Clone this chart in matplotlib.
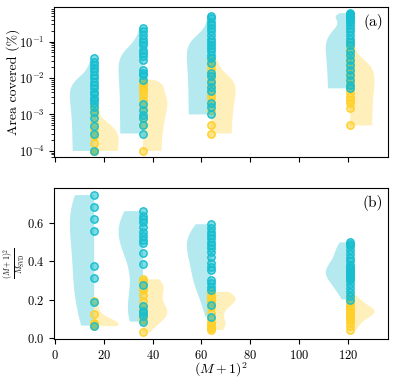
import numpy as np
import matplotlib
matplotlib.use('Agg')
import matplotlib.pyplot as plt

plt.rcParams['font.family'] = 'serif'
plt.rcParams['font.serif'] = ['cmr10']
plt.rcParams['mathtext.fontset'] = 'cm'
plt.rcParams['axes.formatter.use_mathtext'] = True
plt.rcParams['axes.unicode_minus'] = False

# x positions: (M+1)^2
positions = [16, 36, 64, 121]

# top panel: area covered (%) -- cyan (left half) and yellow (right half)
area_cyan = [
    [0.035, 0.028, 0.023, 0.0185, 0.0157, 0.0122, 0.0099, 0.008, 0.0065, 0.0052,
     0.0042, 0.0036, 0.0029, 0.0025, 0.002, 0.0016, 0.0012, 0.0008, 0.00048, 0.0003, 0.0001],
    [0.23, 0.19, 0.15, 0.12, 0.10, 0.081, 0.059, 0.048, 0.039, 0.032,
     0.0166, 0.0141, 0.0123, 0.0089, 0.0019, 0.0013, 0.00098, 0.0008, 0.00051, 0.0003],
    [0.49, 0.44, 0.35, 0.29, 0.23, 0.19, 0.15, 0.12, 0.10, 0.081, 0.066, 0.054,
     0.043, 0.035, 0.026, 0.0135, 0.011, 0.0079, 0.0058, 0.0043, 0.002, 0.0016, 0.001],
    [0.60, 0.57, 0.54, 0.52, 0.49, 0.46, 0.44, 0.40, 0.35, 0.29, 0.23, 0.19, 0.15,
     0.12, 0.10, 0.081, 0.054, 0.043, 0.032, 0.023, 0.0166, 0.0123, 0.0089, 0.0065, 0.0052],
]
area_yellow = [
    [0.0001, 0.0001, 0.0001, 0.0001, 0.0001, 0.0001, 0.00016, 0.00025, 0.0003,
     0.0004, 0.0006, 0.001, 0.0013, 0.0017],
    [0.0001, 0.0005, 0.0008, 0.0013, 0.0018, 0.0025, 0.0032, 0.004, 0.005,
     0.0056, 0.0063, 0.007, 0.0079, 0.0089],
    [0.0003, 0.00051, 0.0013, 0.002, 0.0028, 0.0035, 0.0045, 0.0056, 0.0071,
     0.0089, 0.011, 0.014, 0.018, 0.022, 0.028, 0.032],
    [0.0005, 0.0015, 0.002, 0.0025, 0.0031, 0.0038, 0.005, 0.0063, 0.0079, 0.01,
     0.0126, 0.0158, 0.02, 0.025, 0.032, 0.04, 0.05, 0.063, 0.079, 0.1],
]

# bottom panel: (M+1)^2 / M_SVD
ratio_cyan = [
    [0.748, 0.684, 0.622, 0.561, 0.376, 0.311, 0.189, 0.063],
    [0.664, 0.640, 0.622, 0.605, 0.582, 0.556, 0.533, 0.512, 0.498, 0.443,
     0.386, 0.276, 0.166, 0.142, 0.13, 0.114, 0.084],
    [0.595, 0.574, 0.556, 0.539, 0.521, 0.503, 0.486, 0.469, 0.451, 0.422,
     0.390, 0.372, 0.355, 0.303, 0.285, 0.267, 0.25, 0.171, 0.110],
    [0.50, 0.49, 0.48, 0.46, 0.44, 0.42, 0.40, 0.38, 0.37, 0.36, 0.35, 0.345,
     0.34, 0.33, 0.32, 0.31, 0.30, 0.28, 0.26, 0.24, 0.22, 0.20],
]
ratio_yellow = [
    [0.06, 0.065, 0.068, 0.07, 0.072, 0.075, 0.125, 0.19],
    [0.028, 0.09, 0.10, 0.11, 0.12, 0.13, 0.14, 0.15, 0.166, 0.194, 0.224,
     0.25, 0.26, 0.276, 0.285, 0.295, 0.306],
    [0.04, 0.05, 0.058, 0.07, 0.079, 0.10, 0.13, 0.16, 0.18, 0.19, 0.195,
     0.20, 0.205, 0.21, 0.215, 0.22, 0.23, 0.24],
    [0.04, 0.06, 0.08, 0.10, 0.11, 0.12, 0.125, 0.13, 0.135, 0.14, 0.145,
     0.15, 0.16, 0.17, 0.18, 0.20, 0.22],
]

cyan = '#17becf'
yellow = '#ffd02a'


def half_violin(ax, data, pos, side, color):
    parts = ax.violinplot([data], positions=[pos], widths=20, showextrema=False)
    for b in parts['bodies']:
        verts = b.get_paths()[0].vertices
        if side == 'left':
            verts[:, 0] = np.minimum(verts[:, 0], pos)
        else:
            verts[:, 0] = np.maximum(verts[:, 0], pos)
        b.set_facecolor(color)
        b.set_edgecolor('none')
        b.set_alpha(0.32)


def draw_panel(ax, left_sets, right_sets):
    for pos, dl, dr in zip(positions, left_sets, right_sets):
        half_violin(ax, dl, pos, 'left', cyan)
        half_violin(ax, dr, pos, 'right', yellow)
    for pos, dl, dr in zip(positions, left_sets, right_sets):
        ax.scatter([pos] * len(dr), dr, s=28, facecolor=matplotlib.colors.to_rgba(yellow, 0.55),
                   edgecolor=yellow, linewidth=1.0, zorder=3)
        ax.scatter([pos] * len(dl), dl, s=28, facecolor=matplotlib.colors.to_rgba(cyan, 0.55),
                   edgecolor=cyan, linewidth=1.0, zorder=4)


fig = plt.figure(figsize=(3.96, 3.83), dpi=100)
ax1 = fig.add_axes([0.1376, 0.590, 0.842, 0.392])
ax2 = fig.add_axes([0.1376, 0.115, 0.842, 0.394], sharex=ax1)

draw_panel(ax1, area_cyan, area_yellow)
ax1.set_yscale('log')
ax1.set_ylim(6.8e-5, 0.89)
ax1.set_ylabel('Area covered (%)', fontsize=10, va='center')
ax1.yaxis.set_label_coords(-0.123, 0.5)
ax1.tick_params(labelbottom=False)
ax1.text(0.985, 0.955, '(a)', transform=ax1.transAxes, ha='right', va='top', fontsize=11)

draw_panel(ax2, ratio_cyan, ratio_yellow)
ax2.set_ylim(-0.007, 0.785)
ax2.set_yticks([0.0, 0.2, 0.4, 0.6])
ax2.set_ylabel(r'$\frac{(M+1)^2}{M_{\rm SVD}}$', fontsize=8, va='center')
ax2.yaxis.set_label_coords(-0.12, 0.5)
ax2.set_xlabel(r'$(M+1)^2$', fontsize=10, va='top')
ax2.xaxis.set_label_coords(0.5, -0.145)
ax2.text(0.985, 0.955, '(b)', transform=ax2.transAxes, ha='right', va='top', fontsize=11)

ax2.set_xlim(-0.3, 136.5)
ax2.set_xticks([0, 20, 40, 60, 80, 100, 120])

for ax in (ax1, ax2):
    ax.tick_params(labelsize=9, direction='out', length=3.5)
    ax.tick_params(which='minor', length=2)

fig.savefig('out.png', dpi=100)
